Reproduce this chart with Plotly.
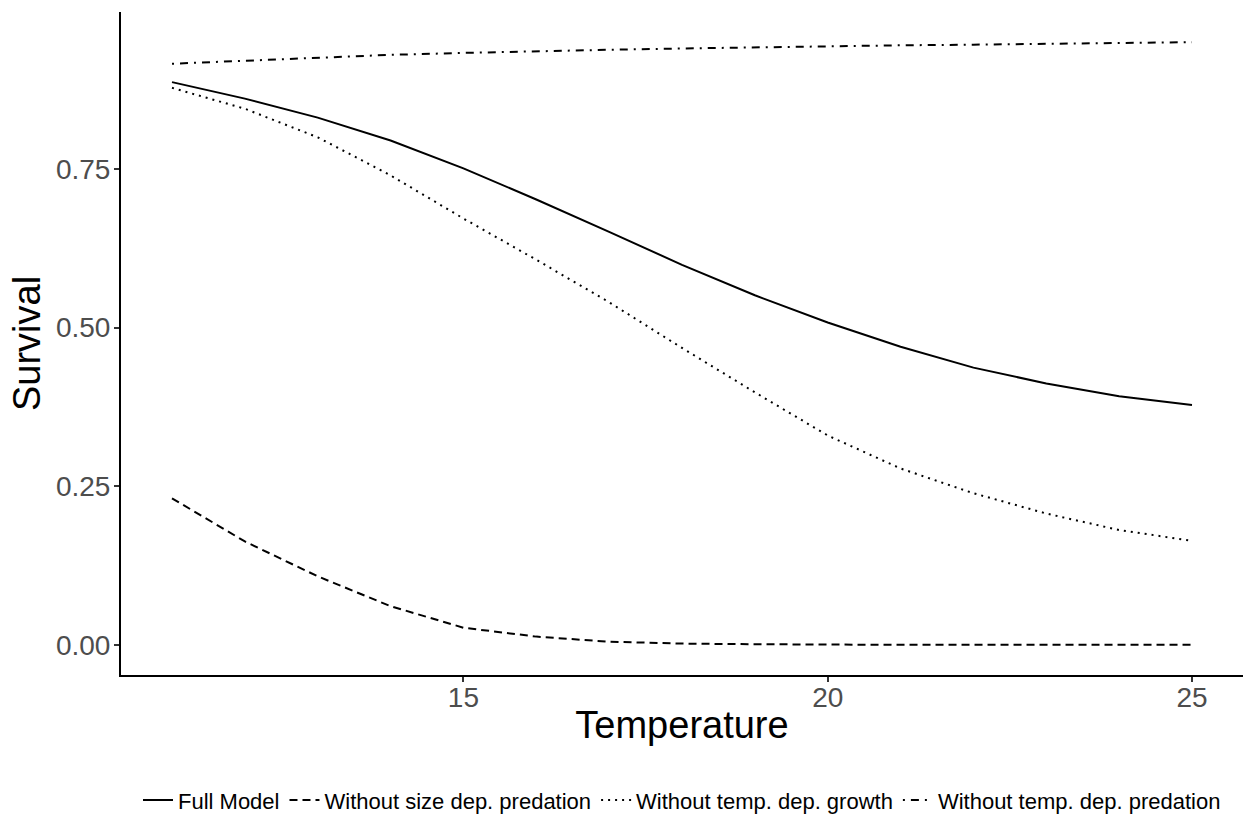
import plotly.graph_objects as go

temperature = list(range(11, 26))

full_model = [0.887, 0.861, 0.831, 0.795, 0.751, 0.702, 0.651, 0.599, 0.551,
              0.508, 0.470, 0.437, 0.412, 0.392, 0.378]
no_size_dep_predation = [0.231, 0.163, 0.108, 0.061, 0.027, 0.013, 0.005, 0.002,
                         0.001, 0.0, 0.0, 0.0, 0.0, 0.0, 0.0]
no_temp_dep_growth = [0.878, 0.845, 0.800, 0.740, 0.672, 0.607, 0.540, 0.468,
                      0.398, 0.330, 0.278, 0.239, 0.207, 0.181, 0.164]
no_temp_dep_predation = [0.916, 0.921, 0.926, 0.930, 0.933, 0.936, 0.938, 0.940,
                         0.942, 0.944, 0.945, 0.946, 0.947, 0.948, 0.950]

series_names = ["Full Model", "Without size dep. predation",
                "Without temp. dep. growth", "Without temp. dep. predation"]
series_values = [full_model, no_size_dep_predation, no_temp_dep_growth, no_temp_dep_predation]
dash_styles = ["solid", "8px,5px", "2px,5px", "2px,6px,8px,6px"]

y_ticks = [0.0, 0.25, 0.5, 0.75]
y_tick_labels = ["0.00", "0.25", "0.50", "0.75"]
x_ticks = [15, 20, 25]

FONT = "Liberation Sans, Arial, Helvetica, sans-serif"

fig = go.Figure()
for name, vals, dash in zip(series_names, series_values, dash_styles):
    fig.add_trace(go.Scatter(
        x=temperature, y=vals, mode="lines", name=name,
        line=dict(color="black", width=2, dash=dash),
    ))

xmin, xmax = min(temperature), max(temperature)
all_y = [v for s in series_values for v in s]
ymin, ymax = min(all_y), max(all_y)
xpad = 0.05 * (xmax - xmin)
ypad = 0.05 * (ymax - ymin)

fig.update_layout(
    width=1243, height=815,
    margin=dict(l=121, r=0, t=12, b=140, autoexpand=False),
    paper_bgcolor="white", plot_bgcolor="white",
    font=dict(family=FONT, color="black"),
    showlegend=True,
    legend=dict(
        orientation="h", x=0.5, xanchor="center", y=-0.189, yanchor="middle",
        font=dict(size=22, family=FONT, color="black"),
        itemwidth=30, tracegroupgap=0,
    ),
    xaxis=dict(
        range=[xmin - xpad, xmax + xpad],
        tickvals=x_ticks, ticktext=[str(t) for t in x_ticks],
        showgrid=False, zeroline=False,
        showline=True, linecolor="black", linewidth=2,
        ticks="outside", ticklen=5, tickwidth=1.5, tickcolor="#333333",
        tickfont=dict(size=28, color="#4D4D4D", family=FONT),
        ticklabelstandoff=-9,
        title=dict(text="Temperature", font=dict(size=38, color="black", family=FONT), standoff=0),
    ),
    yaxis=dict(
        range=[ymin - ypad, ymax + ypad],
        tickvals=y_ticks, ticktext=y_tick_labels,
        showgrid=False, zeroline=False,
        showline=True, linecolor="black", linewidth=2,
        ticks="outside", ticklen=5, tickwidth=1.5, tickcolor="#333333",
        tickfont=dict(size=28, color="#4D4D4D", family=FONT),
        ticklabelstandoff=-2,
        title=dict(text="Survival", font=dict(size=38, color="black", family=FONT), standoff=4),
    ),
)

fig.write_html("out.html")
